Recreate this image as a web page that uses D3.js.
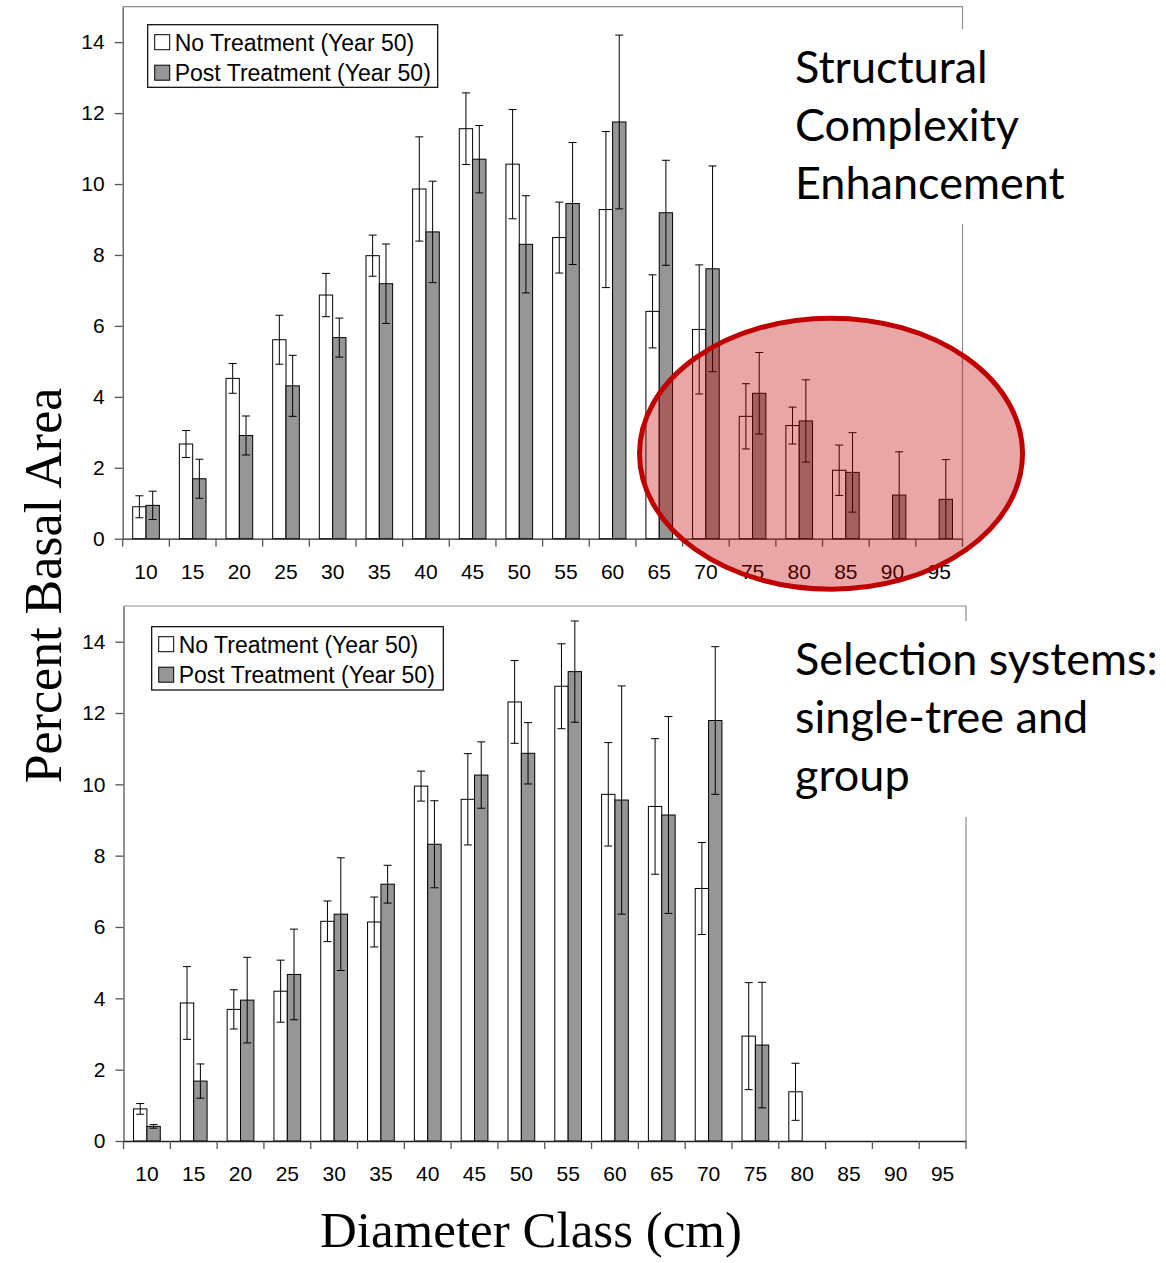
<!DOCTYPE html>
<html>
<head>
<meta charset="utf-8">
<script src="https://cdn.jsdelivr.net/npm/d3@7"></script>
<style>
  body { margin: 0; background: #fff; }
</style>
</head>
<body>
<div id="viscontainer"></div>
<script>
const diameterClasses = ["10", "15", "20", "25", "30", "35", "40", "45", "50",
  "55", "60", "65", "70", "75", "80", "85", "90", "95"];
const yTicks = [0, 2, 4, 6, 8, 10, 12, 14];
const seriesNames = ["No Treatment (Year 50)", "Post Treatment (Year 50)"];

// structural complexity enhancement (top panel)
const sceNone = [0.90, 2.67, 4.52, 5.61, 6.87, 7.98, 9.86, 11.56, 10.56, 8.49, 9.28, 6.41, 5.90, 3.45, 3.19, 1.93, 0, 0];
const sceNoneErr = [0.31, 0.38, 0.42, 0.69, 0.61, 0.58, 1.47, 1.01, 1.54, 1.00, 2.20, 1.03, 1.82, 0.92, 0.52, 0.71, 0, 0];
const scePost = [0.94, 1.69, 2.91, 4.31, 5.67, 7.19, 8.65, 10.70, 8.30, 9.45, 11.75, 9.19, 7.61, 4.10, 3.32, 1.87, 1.23, 1.11];
const scePostErr = [0.40, 0.55, 0.55, 0.86, 0.55, 1.12, 1.43, 0.95, 1.37, 1.72, 2.45, 1.48, 2.90, 1.15, 1.16, 1.12, 1.22, 1.12];

// selection systems (bottom panel)
const selNone = [0.90, 3.87, 3.69, 4.20, 6.16, 6.14, 9.95, 9.58, 12.31, 12.75, 9.72, 9.38, 7.08, 2.94, 1.38, 0, 0, 0];
const selNoneErr = [0.15, 1.02, 0.55, 0.87, 0.57, 0.70, 0.42, 1.28, 1.16, 1.19, 1.45, 1.90, 1.29, 1.50, 0.80, 0, 0, 0];
const selPost = [0.41, 1.68, 3.95, 4.67, 6.36, 7.20, 8.32, 10.26, 10.87, 13.16, 9.56, 9.14, 11.79, 2.69, 0, 0, 0, 0];
const selPostErr = [0.05, 0.48, 1.20, 1.27, 1.58, 0.53, 1.22, 0.93, 0.86, 1.42, 3.20, 2.76, 2.07, 1.76, 0, 0, 0, 0];

const sceNote = ["Structural", "Complexity", "Enhancement"];
const selNote = ["Selection systems:", "single-tree and", "group"];

function makeVis() {
  const width = 1166;
  const height = 1263;
  const sansFont = "'Liberation Sans', Arial, sans-serif";
  const serifFont = "'Liberation Serif', 'Times New Roman', serif";
  const noteFont = "Lato, 'Open Sans', sans-serif";
  const fills = ["#ffffff", "#969696"];

  const svg = d3.create("svg").attr("width", width).attr("height", height);
  document.getElementById("viscontainer").append(svg.node());

  const drawPanel = (p) => {
    const g = svg.append("g");

    const xScale = d3.scaleBand()
      .domain(diameterClasses)
      .range([p.left, p.right])
      .paddingInner(0)
      .paddingOuter(0);
    // excel style: gap width 150% -> two bars take 2 of 3.5 steps
    const xSub = d3.scaleBand()
      .domain([0, 1])
      .range([0, xScale.bandwidth()])
      .paddingInner(0)
      .paddingOuter(0.75);
    const yScale = d3.scaleLinear().domain([0, 15]).range([p.bottom, p.top]);

    const rows = diameterClasses.flatMap((c, i) => [
      { cls: c, s: 0, v: p.none[i], e: p.noneErr[i] },
      { cls: c, s: 1, v: p.post[i], e: p.postErr[i] },
    ]);

    // plot frame (top + right)
    g.append("path")
      .attr("d", `M${p.left},${p.top}H${p.right}V${p.bottom}`)
      .attr("fill", "none")
      .attr("stroke", "#8c8c8c")
      .attr("stroke-width", 1.2);

    // bars
    g.append("g")
      .selectAll("rect")
      .data(rows)
      .join("rect")
      .attr("x", (d) => xScale(d.cls) + xSub(d.s))
      .attr("y", (d) => yScale(d.v))
      .attr("width", xSub.bandwidth())
      .attr("height", (d) => yScale(0) - yScale(d.v))
      .attr("fill", (d) => fills[d.s])
      .attr("stroke", "#000")
      .attr("stroke-width", 1);

    // error bars
    const err = g.append("g")
      .selectAll("g")
      .data(rows.filter((d) => d.e > 0))
      .join("g")
      .attr("transform", (d) => `translate(${xScale(d.cls) + xSub(d.s) + xSub.bandwidth() / 2},0)`)
      .attr("stroke", "#000")
      .attr("stroke-width", 1);
    err.append("line")
      .attr("y1", (d) => yScale(Math.max(0, d.v - d.e)))
      .attr("y2", (d) => yScale(d.v + d.e));
    err.append("line")
      .attr("x1", -4).attr("x2", 4)
      .attr("y1", (d) => yScale(d.v + d.e))
      .attr("y2", (d) => yScale(d.v + d.e));
    err.filter((d) => d.v - d.e > 0.02).append("line")
      .attr("x1", -4).attr("x2", 4)
      .attr("y1", (d) => yScale(d.v - d.e))
      .attr("y2", (d) => yScale(d.v - d.e));

    // y axis
    const yAxis = g.append("g")
      .attr("transform", `translate(${p.left},0)`)
      .call(d3.axisLeft(yScale).tickValues(yTicks).tickSize(8).tickSizeOuter(0).tickPadding(10));
    yAxis.selectAll("path, line").attr("stroke", "#555").attr("stroke-width", 1.3);
    yAxis.selectAll("text").attr("font-family", sansFont).attr("font-size", 21).attr("fill", "#000");

    // x axis: labels centred, ticks on class boundaries
    const xAxis = g.append("g")
      .attr("transform", `translate(0,${p.bottom})`)
      .call(d3.axisBottom(xScale).tickSize(0).tickSizeOuter(0).tickPadding(25));
    xAxis.select(".domain").attr("stroke", "#222").attr("stroke-width", 1.3);
    xAxis.selectAll("text").attr("font-family", sansFont).attr("font-size", 21).attr("fill", "#000");
    const edges = diameterClasses.map((c) => xScale(c)).concat([p.right]);
    xAxis.append("g")
      .selectAll("line")
      .data(edges)
      .join("line")
      .attr("x1", (d) => d).attr("x2", (d) => d)
      .attr("y1", 0).attr("y2", 8)
      .attr("stroke", "#555")
      .attr("stroke-width", 1.3);

    // legend
    const lg = g.append("g").attr("transform", `translate(${p.legend[0]},${p.legend[1]})`);
    lg.append("rect")
      .attr("width", p.legend[2]).attr("height", p.legend[3])
      .attr("fill", "#fff").attr("stroke", "#000").attr("stroke-width", 1.2);
    const item = lg.selectAll("g")
      .data(seriesNames)
      .join("g")
      .attr("transform", (d, i) => `translate(0,${10 + i * 30.5})`);
    item.append("rect")
      .attr("x", 7).attr("width", 15).attr("height", 15)
      .attr("fill", (d, i) => fills[i]).attr("stroke", "#000");
    item.append("text")
      .attr("x", 27).attr("y", 16)
      .attr("font-family", sansFont).attr("font-size", 23)
      .text((d) => d);

    // annotation box
    g.append("rect")
      .attr("x", p.note[0]).attr("y", p.note[1])
      .attr("width", p.note[2]).attr("height", p.note[3])
      .attr("fill", "#fff");
    g.append("g")
      .selectAll("text")
      .data(p.noteLines)
      .join("text")
      .attr("x", 795)
      .attr("y", (d, i) => p.noteBase + i * 58)
      .attr("font-family", noteFont)
      .attr("font-size", 45)
      .attr("fill", "#000")
      .text((d) => d);

    return g;
  };

  const top = drawPanel({
    left: 122.7, right: 962.5, top: 6.7, bottom: 538.7,
    none: sceNone, noneErr: sceNoneErr, post: scePost, postErr: scePostErr,
    legend: [147.7, 24.7, 290, 62.6],
    note: [785, 29, 290, 195],
    noteLines: sceNote, noteBase: 83.3,
  });

  drawPanel({
    left: 123.5, right: 966, top: 606, bottom: 1141,
    none: selNone, noneErr: selNoneErr, post: selPost, postErr: selPostErr,
    legend: [151.7, 626.7, 291.6, 63.3],
    note: [785, 621, 380, 196],
    noteLines: selNote, noteBase: 675,
  });

  // highlight of the large classes in the top panel
  top.append("ellipse")
    .attr("cx", 831).attr("cy", 453.7)
    .attr("rx", 191.5).attr("ry", 135.5)
    .attr("fill", "rgba(192,0,0,0.35)")
    .attr("stroke", "#c00000")
    .attr("stroke-width", 5);

  // axis titles
  svg.append("text")
    .attr("transform", "translate(61,585.5) rotate(-90)")
    .attr("text-anchor", "middle")
    .attr("font-family", serifFont)
    .attr("font-size", 52)
    .text("Percent Basal Area");

  svg.append("text")
    .attr("x", 531).attr("y", 1246.7)
    .attr("text-anchor", "middle")
    .attr("font-family", serifFont)
    .attr("font-size", 51)
    .text("Diameter Class (cm)");
}

makeVis();
</script>
</body>
</html>
